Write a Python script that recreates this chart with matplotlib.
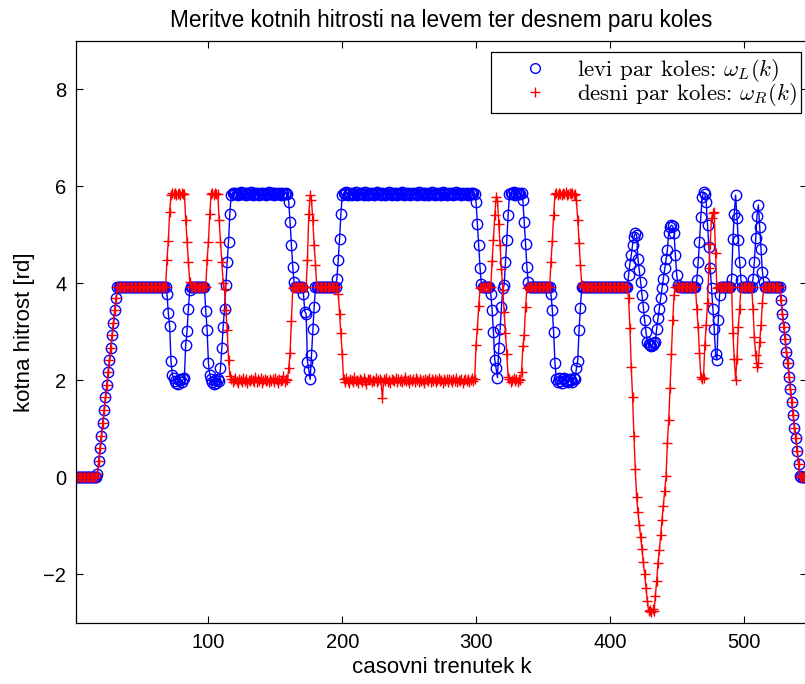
import numpy as np
import matplotlib
matplotlib.use("Agg")
import matplotlib.pyplot as plt
from matplotlib.lines import Line2D

# skupni deli obeh meritev (zagon in ustavljanje)
zagon = [0.07, 0.33, 0.60, 0.86, 1.13, 1.39, 1.65, 1.91, 2.17, 2.42, 2.67, 2.94, 3.19, 3.45, 3.70]
ustavljanje = [3.66, 3.38, 3.11, 2.85, 2.59, 2.35, 2.08, 1.82, 1.56, 1.29, 1.03, 0.81, 0.55, 0.27, 0.04]

# levi par koles - daljsi odseki pri ~5.85
L_visoko_1 = [5.83, 5.86, 5.84, 5.87, 5.85, 5.82, 5.86, 5.88, 5.84, 5.85,
              5.87, 5.83, 5.86, 5.84, 5.85, 5.88, 5.83, 5.86, 5.84, 5.87,
              5.85, 5.82, 5.86, 5.84, 5.87, 5.85, 5.83, 5.86, 5.88, 5.84,
              5.85, 5.87, 5.83, 5.86, 5.84, 5.85, 5.87, 5.83, 5.86, 5.84,
              5.85, 5.87, 5.84]
L_visoko_2 = [5.82, 5.86, 5.84, 5.88, 5.83, 5.85, 5.87, 5.82, 5.86, 5.84,
              5.89, 5.83, 5.85, 5.87, 5.84, 5.86, 5.82, 5.88, 5.85, 5.83,
              5.86, 5.84, 5.87, 5.85, 5.83, 5.86, 5.88, 5.84, 5.85, 5.82,
              5.87, 5.85, 5.83, 5.86, 5.84, 5.89, 5.85, 5.82, 5.86, 5.84,
              5.87, 5.83, 5.85, 5.86, 5.84, 5.88, 5.83, 5.85, 5.87, 5.84,
              5.86, 5.82, 5.85, 5.87, 5.84, 5.86, 5.83, 5.88, 5.85, 5.84,
              5.86, 5.83, 5.87, 5.85, 5.82, 5.86, 5.84, 5.88, 5.85, 5.83,
              5.87, 5.84, 5.86, 5.85, 5.83, 5.88, 5.84, 5.86, 5.82, 5.85,
              5.87, 5.84, 5.86, 5.83, 5.85, 5.88, 5.84, 5.86, 5.85, 5.83,
              5.87, 5.85, 5.84, 5.86, 5.83, 5.85, 5.87, 5.84, 5.86, 5.85]

# desni par koles - daljsi odseki pri ~2.0
R_nizko_1 = [2.03, 1.96, 2.01, 2.05, 1.98, 1.94, 2.02, 2.00, 1.97, 2.06,
             1.99, 2.03, 1.95, 2.01, 1.98, 2.04, 2.00, 1.96, 2.08, 1.97,
             2.02, 1.99, 2.05, 1.95, 2.00, 2.03, 1.98, 2.01, 1.96, 2.04,
             1.99, 2.02, 1.97, 2.06, 2.00, 1.95, 2.03, 1.98, 2.01, 2.09,
             1.97, 2.02, 2.00]
R_nizko_2 = [2.02, 1.97, 2.05, 1.99, 1.94, 2.03, 2.00, 1.96, 2.07, 1.98,
             2.01, 1.95, 2.04, 2.00, 1.97, 2.06, 1.99, 1.93, 2.02, 2.00,
             2.03, 1.97, 2.01, 1.98, 2.05, 1.96, 2.00, 2.04, 1.98, 1.63,
             2.02, 1.99, 2.06, 1.97, 2.01, 1.95, 2.03, 2.00, 1.98, 2.05,
             1.96, 2.02, 1.99, 2.04, 1.97, 2.01, 2.08, 1.98, 2.00, 1.95,
             2.03, 1.99, 2.02, 1.96, 2.05, 2.00, 1.97, 2.03, 1.98, 2.01,
             1.94, 2.04, 2.00, 1.98, 2.06, 1.97, 2.02, 1.99, 2.03, 1.96,
             2.01, 2.05, 1.98, 2.00, 1.95, 2.03, 1.99, 2.02, 1.97, 2.04,
             2.00, 1.96, 2.02, 1.99, 2.05, 1.97, 2.01, 1.98, 2.03, 1.95,
             2.00, 2.04, 1.98, 2.02, 1.97, 2.01, 2.06, 1.99, 2.02]

omega_L = ([0.0] * 16 + zagon + [3.92] * 37
           + [3.79, 3.39, 3.12, 2.40, 2.12]
           + [2.05, 1.98, 1.95, 1.92, 2.00, 2.03, 1.97, 2.02, 2.06]
           + [2.74, 3.02, 3.48, 3.87]
           + [3.92] * 11
           + [3.43, 3.04, 2.35, 2.12]
           + [2.02, 1.96, 1.93, 2.00, 1.95, 2.04, 1.98]
           + [2.25, 2.66, 3.11, 3.48, 3.97, 4.44, 4.86, 5.44]
           + L_visoko_1
           + [5.68, 5.27, 4.79, 4.34, 4.03]
           + [3.92] * 6
           + [3.79, 3.42, 3.38, 2.39, 2.22, 2.02, 2.53, 3.07, 3.52]
           + [3.92] * 16
           + [4.10, 4.49, 4.92, 5.44]
           + L_visoko_2
           + [5.68, 5.23, 4.80, 4.32, 3.98]
           + [3.92] * 6
           + [3.79, 3.46, 2.99, 2.43, 2.25, 2.06]
           + [2.66, 3.07, 3.52, 3.90, 3.97, 4.44, 4.90, 5.42]
           + [5.84, 5.87, 5.85, 5.88, 5.83, 5.86, 5.85, 5.87, 5.84, 5.86]
           + [5.71, 5.27, 4.82, 4.34, 4.02]
           + [3.92] * 16
           + [3.79, 3.46, 2.99, 2.35]
           + [2.03, 1.97, 2.05, 1.99, 1.95, 2.02, 2.06, 1.98, 2.01, 1.96, 2.04, 2.00, 1.97, 2.05, 2.02]
           + [2.25, 2.41, 3.04, 3.50]
           + [3.92] * 35
           + [4.17, 4.41, 4.58, 4.80, 4.96, 5.03, 5.00]
           + [4.51, 4.27, 4.03, 3.76, 3.52, 3.24, 3.00, 2.80]
           + [2.76, 2.74, 2.72, 2.74, 2.77, 2.80]
           + [3.07, 3.28, 3.48, 3.69, 3.90, 4.10, 4.31, 4.51, 4.69, 5.03]
           + [5.16, 5.20, 5.18]
           + [5.03, 4.58, 4.17, 3.97]
           + [3.92] * 13
           + [4.07, 4.44, 4.86, 5.37, 5.78]
           + [5.88, 5.84]
           + [5.68, 5.20, 4.75, 4.31, 3.90, 3.48, 3.07, 2.54, 2.42]
           + [3.24, 3.76]
           + [3.92] * 8
           + [4.10, 4.92, 5.44, 5.82, 5.34, 4.89, 4.44, 4.07]
           + [3.92] * 8
           + [4.10, 4.44, 4.94, 5.40, 5.62, 5.16, 4.72, 4.24, 4.03]
           + [3.92] * 12
           + ustavljanje
           + [0.0] * 5)

omega_R = ([0.0] * 16 + zagon + [3.92] * 37
           + [4.49, 4.88, 5.47]
           + [5.83, 5.86, 5.84, 5.87, 5.82, 5.85, 5.86, 5.83, 5.87, 5.84, 5.85]
           + [5.31, 4.86, 4.44, 4.03]
           + [3.92] * 12
           + [4.49, 4.86, 5.44]
           + [5.84, 5.87, 5.83, 5.86, 5.85, 5.84]
           + [5.31, 4.86, 4.44, 4.00, 3.88, 3.45, 3.05, 2.43, 2.10]
           + R_nizko_1
           + [2.25, 2.56, 3.23, 3.90]
           + [3.92] * 10
           + [4.49, 5.44, 5.82, 5.72, 5.31, 4.79, 4.38]
           + [3.92] * 16
           + [3.79, 3.38, 2.97, 2.54]
           + R_nizko_2
           + [2.74, 3.07, 3.54, 3.90]
           + [3.92] * 8
           + [4.46, 4.90, 5.41, 5.78, 5.70, 5.23, 4.79, 4.30, 3.87, 3.42, 2.97, 2.54, 2.08]
           + [2.04, 1.97, 2.01, 2.06, 1.98, 2.02, 1.96, 2.03, 2.00]
           + [2.18, 2.70, 2.94, 3.52, 3.90]
           + [3.92] * 17
           + [4.44, 4.88, 5.41]
           + [5.84, 5.86, 5.83, 5.87, 5.85, 5.82, 5.86, 5.84, 5.88, 5.83, 5.85, 5.87, 5.84, 5.86, 5.83, 5.85]
           + [5.71, 5.31, 4.84, 4.39, 3.97]
           + [3.92] * 34
           + [3.69, 3.09, 2.28, 1.65, 0.86, 0.17, -0.40, -0.72, -0.97, -1.22, -1.47, -1.75, -2.00, -2.28, -2.54, -2.76]
           + [-2.74, -2.78, -2.72, -2.76]
           + [-2.45, -2.13, -1.76, -1.50, -1.18, -0.87, -0.58, -0.27, 0.02, 0.71, 1.19, 1.84, 2.55, 3.24, 3.76]
           + [3.92] * 16
           + [3.48, 3.11, 2.56, 2.08, 2.04, 2.06, 2.73, 3.14, 3.60, 4.31, 4.82, 5.34, 5.45, 5.47, 4.62, 3.90]
           + [3.92] * 11
           + [2.97, 2.45, 2.01, 2.45, 3.11, 3.48]
           + [3.92] * 9
           + [3.48, 2.90, 2.52, 2.28, 2.35, 2.80, 3.14, 3.59]
           + [3.92] * 13
           + ustavljanje
           + [0.0] * 5)

x_ticks = [100, 200, 300, 400, 500]
y_ticks = [-2, 0, 2, 4, 6, 8]

plt.rcParams['font.family'] = ['Liberation Sans', 'DejaVu Sans']
plt.rcParams['mathtext.fontset'] = 'cm'

k_L = np.arange(1, len(omega_L) + 1)
k_R = np.arange(1, len(omega_R) + 1)

fig = plt.figure(figsize=(8.05, 6.84), dpi=100)
ax = fig.add_axes([0.0944, 0.0892, 0.9075, 0.851])

# crte brez legende, oznake z legendo
ax.plot(k_L, omega_L, '-', color='blue', lw=1.0)
ax.plot(k_L, omega_L, 'o', color='blue', mfc='none', ms=7.5, mew=1.0)
ax.plot(k_R, omega_R, '-', color='red', lw=1.0)
ax.plot(k_R, omega_R, '+', color='red', ms=7.5, mew=1.0)

ax.set_xlim(1, 547)
ax.set_ylim(-3, 9)
ax.set_xticks(x_ticks)
ax.set_yticks(y_ticks)
ax.tick_params(direction='in', length=5, width=0.8, top=True, right=True, labelsize=14.5, pad=7)
for s in ax.spines.values():
    s.set_linewidth(0.9)

ax.set_title('Meritve kotnih hitrosti na levem ter desnem paru koles', fontsize=16.3, pad=10)
ax.set_xlabel('casovni trenutek k', fontsize=16, labelpad=4)
ax.set_ylabel('kotna hitrost [rd]', fontsize=16, labelpad=6)

handles = [Line2D([], [], ls='none', marker='o', color='blue', mfc='none', ms=7, mew=1.0),
           Line2D([], [], ls='none', marker='+', color='red', ms=7, mew=1.0)]
# presledek v mathtextu na koncu da ostane prostor do desnega roba okvirja
labels = [r'levi par koles: $\omega_L(k)\ \ $',
          r'desni par koles: $\omega_R(k)\ \ $']
leg = ax.legend(handles, labels, loc='upper right', bbox_to_anchor=(0.993, 0.981),
                borderaxespad=0, prop={'family': 'cmr10', 'size': 16.5},
                handlelength=3.44, handletextpad=0.13, borderpad=0.2,
                labelspacing=-0.1, fancybox=False, framealpha=1)
leg.get_frame().set_edgecolor('black')
leg.get_frame().set_linewidth(0.9)

fig.savefig('out.png', dpi=100)
